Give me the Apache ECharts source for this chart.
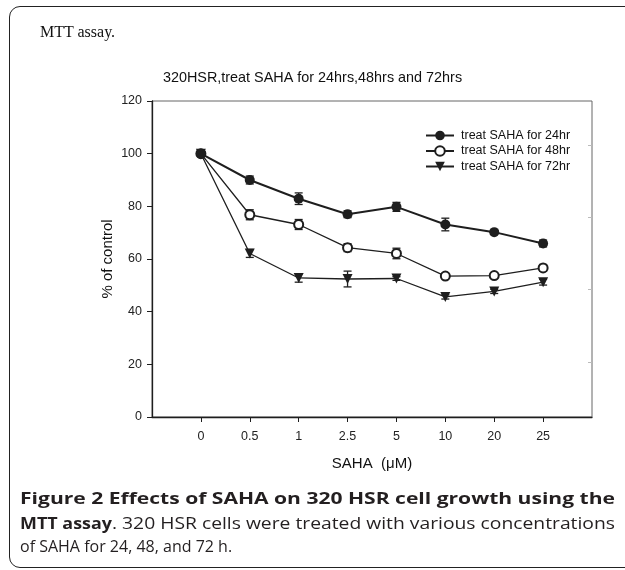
<!DOCTYPE html>
<html>
<head>
<meta charset="utf-8">
<script src="https://cdn.jsdelivr.net/npm/echarts@6/dist/echarts.min.js"></script>
<style>
  html, body { margin: 0; padding: 0; background: #fff; }
  #wrap { position: relative; width: 625px; height: 570px; overflow: hidden; }
  #chart { position: absolute; left: 0; top: 0; width: 625px; height: 570px; }
  .frame {
    position: absolute; left: 9px; top: 6px; width: 700px; height: 562px;
    border: 1.5px solid #222; border-radius: 11px; box-sizing: border-box;
  }
  .head {
    position: absolute; left: 40px; top: 23px;
    font: 16px/18px "Liberation Serif", serif; color: #111;
  }
  .caption {
    position: absolute; left: 20px; top: 486px; width: 595px;
    font: 16px/23.5px "Open Sans", sans-serif; color: #231f20;
  }
  .caption .ln { white-space: nowrap; }
  .caption b { font-weight: 700; font-size: 16.5px; }
  .caption .st { display: inline-block; transform-origin: 0 50%; white-space: pre; }
</style>
</head>
<body>
<div id="wrap">
  <div id="chart"></div>
  <div class="frame"></div>
  <div class="head">MTT assay.</div>
  <div class="caption">
    <div class="ln" id="cap1"><b class="st">Figure 2 Effects of SAHA on 320 HSR cell growth using the</b></div>
    <div class="ln" id="cap2"><b class="st">MTT assay</b><span class="st">. 320 HSR cells were treated with various concentrations</span></div>
    <div class="ln">of SAHA for 24, 48, and 72 h.</div>
  </div>
</div>
<script>
  // SAHA concentrations (uM)
  const doses = ["0", "0.5", "1", "2.5", "5", "10", "20", "25"];
  const yTicks = [0, 20, 40, 60, 80, 100, 120];

  const names = ["treat SAHA for 24hr", "treat SAHA for 48hr", "treat SAHA for 72hr"];

  // % of control
  const mean24 = [100, 90.0, 82.9, 77.0, 79.8, 73.1, 70.2, 65.9];
  const err24 = [0, 1.5, 2.2, 1.3, 1.7, 2.4, 0.5, 1.3];

  const mean48 = [100, 76.8, 73.1, 64.3, 62.1, 53.5, 53.7, 56.6];
  const err48 = [0, 1.9, 1.9, 1.5, 2.0, 0.5, 0.5, 1.3];

  const mean72 = [100, 62.1, 52.8, 52.4, 52.6, 45.6, 47.7, 51.2];
  const err72 = [0, 1.5, 1.6, 3.0, 0.7, 0.8, 0.8, 1.1];

  // faint inner ticks on the right frame
  const rightTicks = [20.9, 48.6, 76.0, 103.3];

  const INK = "#1e1e1e";
  const FONT = "Liberation Sans";

  // blank slot at each end so the first/last dose sit inside the frame
  const cats = [""].concat(doses, [" "]);

  function pairs(vals) {
    return vals.map((v, i) => [doses[i], v]);
  }

  function errData(vals, errs) {
    return vals.map((v, i) => [i + 1, v - errs[i], v + errs[i]]);
  }

  function errSeries(vals, errs) {
    return {
      type: "custom",
      silent: true,
      z: 1,
      data: errData(vals, errs),
      renderItem(params, api) {
        const x = api.value(0);
        const lo = api.coord([x, api.value(1)]);
        const hi = api.coord([x, api.value(2)]);
        const w = 4;
        const style = { stroke: INK, lineWidth: 1.3 };
        return {
          type: "group",
          children: [
            { type: "line", shape: { x1: lo[0], y1: lo[1], x2: hi[0], y2: hi[1] }, style },
            { type: "line", shape: { x1: lo[0] - w, y1: lo[1], x2: lo[0] + w, y2: lo[1] }, style },
            { type: "line", shape: { x1: hi[0] - w, y1: hi[1], x2: hi[0] + w, y2: hi[1] }, style },
          ],
        };
      },
    };
  }

  // the journal's face is wider than Open Sans: stretch each piece to its width
  function stretch(el, target) {
    const w = el.getBoundingClientRect().width;
    const s = target / w;
    el.style.transform = "scaleX(" + s + ")";
    el.style.marginRight = w * (s - 1) + "px";
  }

  function fitCaption() {
    const W = 595;
    const BOLD_MTT = 92; // width of "MTT assay" in the figure
    stretch(document.querySelector("#cap1 b"), W);
    stretch(document.querySelector("#cap2 b"), BOLD_MTT);
    stretch(document.querySelector("#cap2 span"), W - BOLD_MTT);
  }
  fitCaption();

  const chart = echarts.init(document.getElementById("chart"));

  const option = {
    animation: false,
    title: {
      text: "320HSR,treat SAHA for 24hrs,48hrs and 72hrs",
      left: "center",
      top: 66,
      textStyle: { fontFamily: FONT, fontSize: 14.4, fontWeight: "normal", color: "#111" },
    },
    legend: {
      data: names,
      orient: "vertical",
      left: 425,
      top: 129,
      padding: 0,
      itemWidth: 28,
      itemHeight: 12,
      itemGap: 2.5,
      textStyle: { fontFamily: FONT, fontSize: 12.5, color: "#111", padding: [0, 0, 0, 2] },
    },
    grid: {
      left: 152,
      right: 33,
      top: 101,
      bottom: 153,
      show: true,
      borderColor: "#666",
      borderWidth: 1,
    },
    xAxis: {
      type: "category",
      data: cats,
      boundaryGap: false,
      name: "SAHA  (\u03bcM)",
      nameLocation: "middle",
      nameGap: 39,
      nameMoveOverlap: false,
      nameTextStyle: { fontFamily: FONT, fontSize: 15, color: "#111" },
      axisLine: { lineStyle: { color: INK, width: 1.3 } },
      axisTick: {
        length: 5,
        interval: (i) => i > 0 && i < cats.length - 1,
        lineStyle: { color: INK },
      },
      axisLabel: {
        interval: 0,
        margin: 13,
        fontFamily: FONT,
        fontSize: 12.5,
        color: "#222",
      },
      splitLine: { show: false },
    },
    yAxis: [
      {
        type: "value",
        min: yTicks[0],
        max: yTicks[yTicks.length - 1],
        interval: 20,
        name: "% of control",
        nameLocation: "middle",
        nameRotate: 90,
        nameGap: 37,
        nameMoveOverlap: false,
        nameTextStyle: { fontFamily: FONT, fontSize: 15, color: "#111" },
        axisLine: { show: true, lineStyle: { color: INK, width: 1.3 } },
        axisTick: { show: true, length: 5, lineStyle: { color: INK } },
        axisLabel: { margin: 10, fontFamily: FONT, fontSize: 12.5, color: "#222" },
        splitLine: { show: false },
      },
      {
        type: "value",
        position: "right",
        min: yTicks[0],
        max: yTicks[yTicks.length - 1],
        axisLine: { show: false },
        axisTick: {
          show: true,
          inside: true,
          length: 4,
          customValues: rightTicks,
          lineStyle: { color: "#bbb" },
        },
        axisLabel: { show: false },
        splitLine: { show: false },
      },
    ],
    series: [
      errSeries(mean24, err24),
      errSeries(mean48, err48),
      errSeries(mean72, err72),
      {
        name: names[0],
        type: "line",
        z: 4,
        data: pairs(mean24),
        symbol: "circle",
        symbolSize: 10,
        lineStyle: { color: INK, width: 2 },
        itemStyle: { color: INK },
      },
      {
        name: names[1],
        type: "line",
        z: 3,
        data: pairs(mean48),
        symbol: "emptyCircle",
        symbolSize: 9,
        lineStyle: { color: INK, width: 1.3 },
        itemStyle: { color: INK, borderWidth: 1.5 },
      },
      {
        name: names[2],
        type: "line",
        z: 3,
        data: pairs(mean72),
        symbol: "triangle",
        symbolRotate: 180,
        symbolSize: 10,
        lineStyle: { color: INK, width: 1.3 },
        itemStyle: { color: INK },
      },
    ],
  };

  chart.setOption(option);
</script>
</body>
</html>
